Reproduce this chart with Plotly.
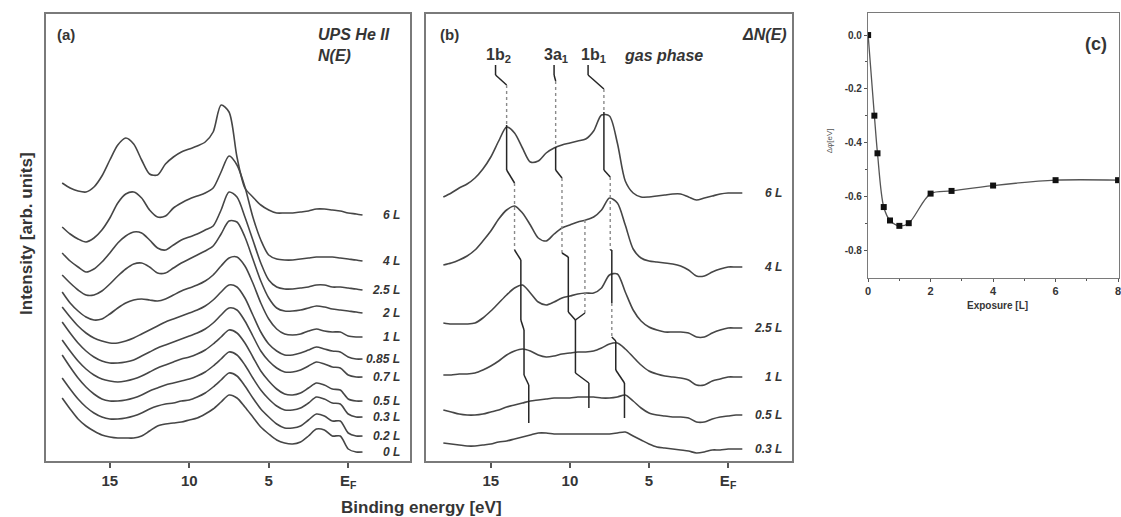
import plotly.graph_objects as go

# ---------------- data ----------------
energy = [18, 17.5, 17, 16.5, 16, 15.5, 15, 14.5, 14, 13.5, 13, 12.5, 12, 11.5, 11, 10.5,
          10, 9.5, 9, 8.5, 8, 7.5, 7, 6.5, 6, 5.5, 5, 4.5, 4, 3.5, 3, 2.5, 2, 1.5, 1, 0.5,
          0, -0.5, -0.9]

# panel (a): N(E), offset intensities (arb. units)
labels_a = ["6 L", "4 L", "2.5 L", "2 L", "1 L", "0.85 L", "0.7 L", "0.5 L", "0.3 L", "0.2 L", "0 L"]
a_6L = [278, 273, 270, 269, 274, 285, 301, 316, 323, 317, 301, 287, 286, 297, 304, 309, 312, 315, 319, 329,
        356, 349, 304, 273, 264, 256, 251, 248, 248, 248, 249, 250, 252, 252, 251, 250, 248, 247, 246]
a_4L = [234, 227, 222, 219, 223, 231, 243, 258, 267, 269, 263, 251, 244, 245, 253, 258, 262, 265, 268, 273,
        289, 305, 296, 274, 244, 221, 206, 202, 201, 201, 202, 203, 204, 204, 204, 203, 202, 201, 200]
a_2p5L = [208, 200, 194, 189, 192, 199, 208, 218, 225, 229, 228, 221, 213, 211, 216, 221, 224, 227, 231, 235,
          251, 269, 264, 244, 221, 198, 181, 174, 172, 172, 173, 174, 176, 176, 174, 174, 173, 172, 171]
a_2L = [186, 178, 171, 166, 166, 170, 177, 185, 192, 197, 198, 194, 188, 188, 193, 198, 202, 206, 210, 215,
        227, 240, 239, 224, 202, 180, 163, 153, 150, 150, 151, 153, 155, 154, 152, 151, 150, 149, 148]
a_1L = [169, 158, 150, 144, 141, 142, 147, 153, 158, 161, 162, 161, 160, 162, 166, 170, 173, 176, 180, 186,
        195, 203, 204, 195, 178, 158, 142, 132, 127, 126, 127, 130, 132, 130, 129, 129, 125, 124, 124]
a_0p85L = [154, 144, 135, 128, 123, 120, 118, 118, 120, 123, 127, 131, 135, 139, 142, 145, 148, 151, 155, 161,
           169, 176, 174, 163, 146, 129, 117, 110, 106, 106, 108, 111, 114, 112, 110, 109, 104, 102, 102]
a_0p7L = [139, 128, 118, 110, 104, 100, 98, 98, 99, 101, 105, 109, 113, 116, 119, 122, 125, 128, 132, 138,
          146, 153, 151, 140, 125, 110, 100, 93, 89, 89, 91, 95, 99, 97, 94, 93, 86, 84, 84]
a_0p5L = [121, 110, 100, 92, 86, 82, 80, 79, 80, 82, 85, 89, 93, 96, 99, 102, 104, 107, 111, 117,
          124, 131, 128, 118, 104, 90, 80, 72, 67, 66, 68, 73, 78, 76, 72, 71, 62, 60, 60]
a_0p3L = [106, 94, 83, 74, 67, 62, 60, 60, 61, 63, 66, 70, 73, 76, 78, 80, 82, 85, 89, 95,
          102, 109, 106, 96, 83, 71, 62, 55, 51, 51, 53, 58, 64, 62, 58, 57, 47, 44, 44]
a_0p2L = [83, 72, 62, 54, 48, 44, 42, 42, 43, 45, 48, 52, 55, 57, 58, 60, 61, 64, 68, 74,
          81, 88, 85, 75, 63, 52, 44, 37, 33, 33, 35, 41, 47, 45, 40, 40, 28, 25, 25]
a_0L = [63, 52, 42, 35, 30, 26, 24, 23, 23, 23, 25, 30, 35, 37, 38, 39, 41, 43, 47, 52,
        59, 66, 63, 54, 44, 34, 27, 21, 18, 17, 19, 25, 32, 31, 25, 25, 12, 9, 9]
spectra_a = [a_6L, a_4L, a_2p5L, a_2L, a_1L, a_0p85L, a_0p7L, a_0p5L, a_0p3L, a_0p2L, a_0L]

# panel (b): difference spectra Delta N(E)
labels_b = ["6 L", "4 L", "2.5 L", "1 L", "0.5 L", "0.3 L"]
b_6L = [264, 268, 273, 277, 283, 292, 304, 320, 334, 328, 313, 299, 300, 308, 313, 316, 318, 320, 322, 330,
        346, 345, 318, 280, 268, 264, 264, 265, 266, 267, 267, 264, 261, 263, 265, 267, 268, 268, 268]
b_4L = [196, 198, 201, 205, 211, 220, 230, 242, 251, 255, 248, 236, 223, 220, 227, 233, 236, 239, 241, 244,
        251, 263, 258, 236, 212, 203, 200, 199, 198, 197, 195, 191, 185, 185, 189, 192, 194, 194, 194]
b_2p5L = [138, 137, 137, 137, 138, 143, 150, 158, 166, 173, 176, 168, 159, 156, 159, 163, 165, 167, 168, 168,
          173, 186, 187, 169, 151, 140, 134, 131, 129, 129, 129, 128, 124, 124, 128, 131, 133, 133, 133]
b_1L = [86, 86, 87, 87, 88, 91, 95, 100, 106, 110, 112, 110, 106, 104, 105, 107, 108, 109, 109, 110,
        113, 117, 118, 112, 104, 96, 90, 87, 85, 84, 83, 81, 76, 76, 80, 82, 84, 84, 84]
b_0p5L = [51, 49, 47, 46, 46, 47, 49, 51, 54, 56, 58, 60, 61, 62, 63, 63, 63, 64, 64, 64,
          63, 63, 64, 66, 60, 53, 48, 46, 45, 44, 44, 43, 39, 39, 42, 44, 45, 46, 46]
b_0p3L = [18, 17, 16, 15, 15, 16, 17, 19, 20, 22, 24, 26, 28, 28, 27, 27, 27, 27, 27, 27,
          27, 27, 28, 29, 25, 21, 17, 14, 13, 12, 11, 10, 8, 9, 11, 11, 12, 12, 12]
spectra_b = [b_6L, b_4L, b_2p5L, b_1L, b_0p5L, b_0p3L]

# peak positions (gas phase, 6 L, 4 L, 2.5 L, 1 L, 0.5 L) in eV
peak_1b2 = [14.7, 14.0, 13.5, 13.1, 12.9, 12.6]
peak_3a1 = [11.0, 10.9, 10.5, 10.1, 9.65, 8.8]
peak_1b1 = [8.85, 7.85, 7.45, 7.35, 7.1, 6.55]
peak_3a1_split = 9.05

# panel (c): work function change vs exposure
exposure = [0, 0.2, 0.3, 0.5, 0.7, 1.0, 1.3, 2.0, 2.67, 4.0, 6.0, 8.0]
dphi = [0.0, -0.30, -0.44, -0.64, -0.69, -0.71, -0.70, -0.59, -0.58, -0.56, -0.54, -0.54]

energy_ticks = [15, 10, 5, 0]
energy_ticktext = ["15", "10", "5", "E<sub>F</sub>"]
exp_ticks = [0, 2, 4, 6, 8]
exp_ticktext = ["0", "2", "4", "6", "8"]
dphi_ticks = [0.0, -0.2, -0.4, -0.6, -0.8]
dphi_ticktext = ["0.0", "-0.2", "-0.4", "-0.6", "-0.8"]

# ---------------- style / layout ----------------
W, H = 1121, 517
FONT = "Liberation Sans, Arial, sans-serif"
TXT = "#353535"
CURVE = "#464646"
BOX = "#7a7a7a"


def fx(p):
    return p / W


def fy(p):
    return 1 - p / H


fig = go.Figure()

# spectra (a)
for name, vals in zip(labels_a, spectra_a):
    fig.add_trace(go.Scatter(x=energy, y=vals, mode="lines", xaxis="x", yaxis="y",
                             line=dict(color=CURVE, width=1.6, shape="spline", smoothing=0.8),
                             showlegend=False, hoverinfo="skip"))
    fig.add_annotation(x=fx(401), xref="paper", y=vals[-1], yref="y", text=f"<b><i>{name}</i></b>",
                       xanchor="right", yanchor="middle", showarrow=False,
                       font=dict(family=FONT, size=12, color=TXT))

# spectra (b)
for name, vals in zip(labels_b, spectra_b):
    fig.add_trace(go.Scatter(x=energy, y=vals, mode="lines", xaxis="x2", yaxis="y2",
                             line=dict(color=CURVE, width=1.6, shape="spline", smoothing=0.8),
                             showlegend=False, hoverinfo="skip"))
    fig.add_annotation(x=fx(785), xref="paper", y=vals[-1], yref="y2", text=f"<b><i>{name}</i></b>",
                       xanchor="right", yanchor="middle", showarrow=False,
                       font=dict(family=FONT, size=12, color=TXT))

# peak tracking marker lines in (b): (level, top, bottom, dotted)
seg_1b2 = [(0, 396, 386, False), (1, 376, 336, True), (1, 336, 291, False), (2, 278, 211, True),
           (3, 201, 141, False), (4, 131, 86, False), (5, 76, 38, False)]
seg_3a1 = [(0, 396, 386, False), (1, 380, 314, True), (1, 314, 291, False), (2, 283, 208, True),
           (3, 204, 149, False), (4, 141, 88, False), (5, 78, 53, False)]
seg_1b1 = [(0, 396, 386, False), (1, 372, 349, True), (1, 349, 291, False), (2, 284, 211, True),
           (3, 211, 158, False), (3, 158, 124, True), (4, 120, 91, False), (5, 78, 43, False)]


def add_line(xs, ys, dotted):
    fig.add_trace(go.Scatter(x=xs, y=ys, mode="lines", xaxis="x2", yaxis="y2",
                             line=dict(color="#8a8a8a" if dotted else "#262626",
                                       width=1.4 if dotted else 1.5,
                                       dash="dot" if dotted else "solid"),
                             showlegend=False, hoverinfo="skip"))


for peaks, segs in [(peak_1b2, seg_1b2), (peak_3a1, seg_3a1), (peak_1b1, seg_1b1)]:
    prev = None
    for lev, top, bot, dotted in segs:
        e = peaks[lev]
        if prev is not None and (prev[0] != e or prev[1] != top):
            add_line([prev[0], e], [prev[1], top], False)
        add_line([e, e], [top, bot], dotted)
        prev = (e, bot)

# split 3a1 branch
add_line([peak_3a1_split, peak_3a1_split], [241, 148], True)
add_line([peak_3a1_split, peak_3a1[4]], [148, 141], False)

# panel (c)
fig.add_trace(go.Scatter(x=exposure, y=dphi, mode="lines", xaxis="x3", yaxis="y3",
                         line=dict(color="#555555", width=1.3, shape="spline", smoothing=0.9),
                         showlegend=False, hoverinfo="skip"))
fig.add_trace(go.Scatter(x=exposure, y=dphi, mode="markers", xaxis="x3", yaxis="y3",
                         marker=dict(symbol="square", size=6, color="#111111"),
                         showlegend=False, hoverinfo="skip"))

axis_common = dict(showgrid=False, zeroline=False, showline=True, mirror=True,
                   linecolor=BOX, linewidth=1.8)

fig.update_layout(
    width=W, height=H, margin=dict(l=0, r=0, t=0, b=0),
    paper_bgcolor="white", plot_bgcolor="white",
    font=dict(family=FONT, color=TXT),
    xaxis=dict(domain=[fx(43), fx(409)], range=[19.03, -3.90], anchor="y",
               tickvals=energy_ticks, ticktext=[f"<b>{t}</b>" for t in energy_ticktext],
               ticks="outside", ticklen=5, tickwidth=1.5, tickcolor="#555",
               tickfont=dict(family=FONT, size=15, color=TXT), **axis_common),
    yaxis=dict(domain=[fy(461), fy(14)], range=[0, 447], anchor="x",
               showticklabels=False, ticks="", **axis_common),
    xaxis2=dict(domain=[fx(425), fx(793)], range=[19.09, -4.07], anchor="y2",
                tickvals=energy_ticks, ticktext=[f"<b>{t}</b>" for t in energy_ticktext],
                ticks="outside", ticklen=5, tickwidth=1.5, tickcolor="#555",
                tickfont=dict(family=FONT, size=15, color=TXT), **axis_common),
    yaxis2=dict(domain=[fy(461), fy(14)], range=[0, 447], anchor="x2",
                showticklabels=False, ticks="", **axis_common),
    xaxis3=dict(domain=[fx(869), 1.0], range=[0, 8.03], anchor="y3",
                tickvals=exp_ticks, ticktext=[f"<b>{t}</b>" for t in exp_ticktext],
                ticks="outside", ticklen=3, tickwidth=1.2, tickcolor="#555",
                ticklabeloverflow="allow",
                minor=dict(tickvals=[1, 3, 5, 7], ticks="outside", ticklen=2, tickcolor="#555"),
                tickfont=dict(family=FONT, size=11, color=TXT),
                showgrid=False, zeroline=False, showline=True, mirror=True,
                linecolor=BOX, linewidth=1.4),
    yaxis3=dict(domain=[fy(278), fy(13)], range=[-0.904, 0.082], anchor="x3",
                tickvals=dphi_ticks, ticktext=[f"<b>{t}</b>" for t in dphi_ticktext],
                ticks="outside", ticklen=3, tickwidth=1.2, tickcolor="#555",
                minor=dict(tickvals=[-0.1, -0.3, -0.5, -0.7], ticks="outside", ticklen=2, tickcolor="#555"),
                tickfont=dict(family=FONT, size=10, color=TXT),
                showgrid=False, zeroline=False, showline=True, mirror=True,
                linecolor=BOX, linewidth=1.4),
)


def note(text, x, y, size, xanchor="left", angle=0, color=TXT):
    fig.add_annotation(x=fx(x), y=fy(y), xref="paper", yref="paper", text=text, showarrow=False,
                       xanchor=xanchor, yanchor="middle", textangle=angle,
                       font=dict(family=FONT, size=size, color=color))


note("<b>(a)</b>", 52, 35, 15)
note("<b><i>UPS He II</i></b>", 314, 34, 16)
note("<b><i>N(E)</i></b>", 314, 55, 16)
note("<b>(b)</b>", 437, 35, 15)
note("<b><i>\u0394N(E)</i></b>", 790, 34, 16, xanchor="right")
note("<b>1b<sub>2</sub></b>", 498, 56, 16, xanchor="center")
note("<b>3a<sub>1</sub></b>", 555, 56, 16, xanchor="center")
note("<b>1b<sub>1</sub></b>", 593, 56, 16, xanchor="center")
note("<b><i>gas phase</i></b>", 663, 56, 16, xanchor="center")
note("<b>Intensity [arb. units]</b>", 23, 234, 17, xanchor="center", angle=-90)
note("<b>Binding energy [eV]</b>", 420, 507, 17, xanchor="center")
note("<b>(c)</b>", 1098, 44, 18, xanchor="center")
note("<b>Exposure [L]</b>", 999, 305, 10, xanchor="center")
note("\u0394\u03c6[eV]", 830, 141, 8, xanchor="center", angle=-90, color="#555")

fig.write_html("out.html")
